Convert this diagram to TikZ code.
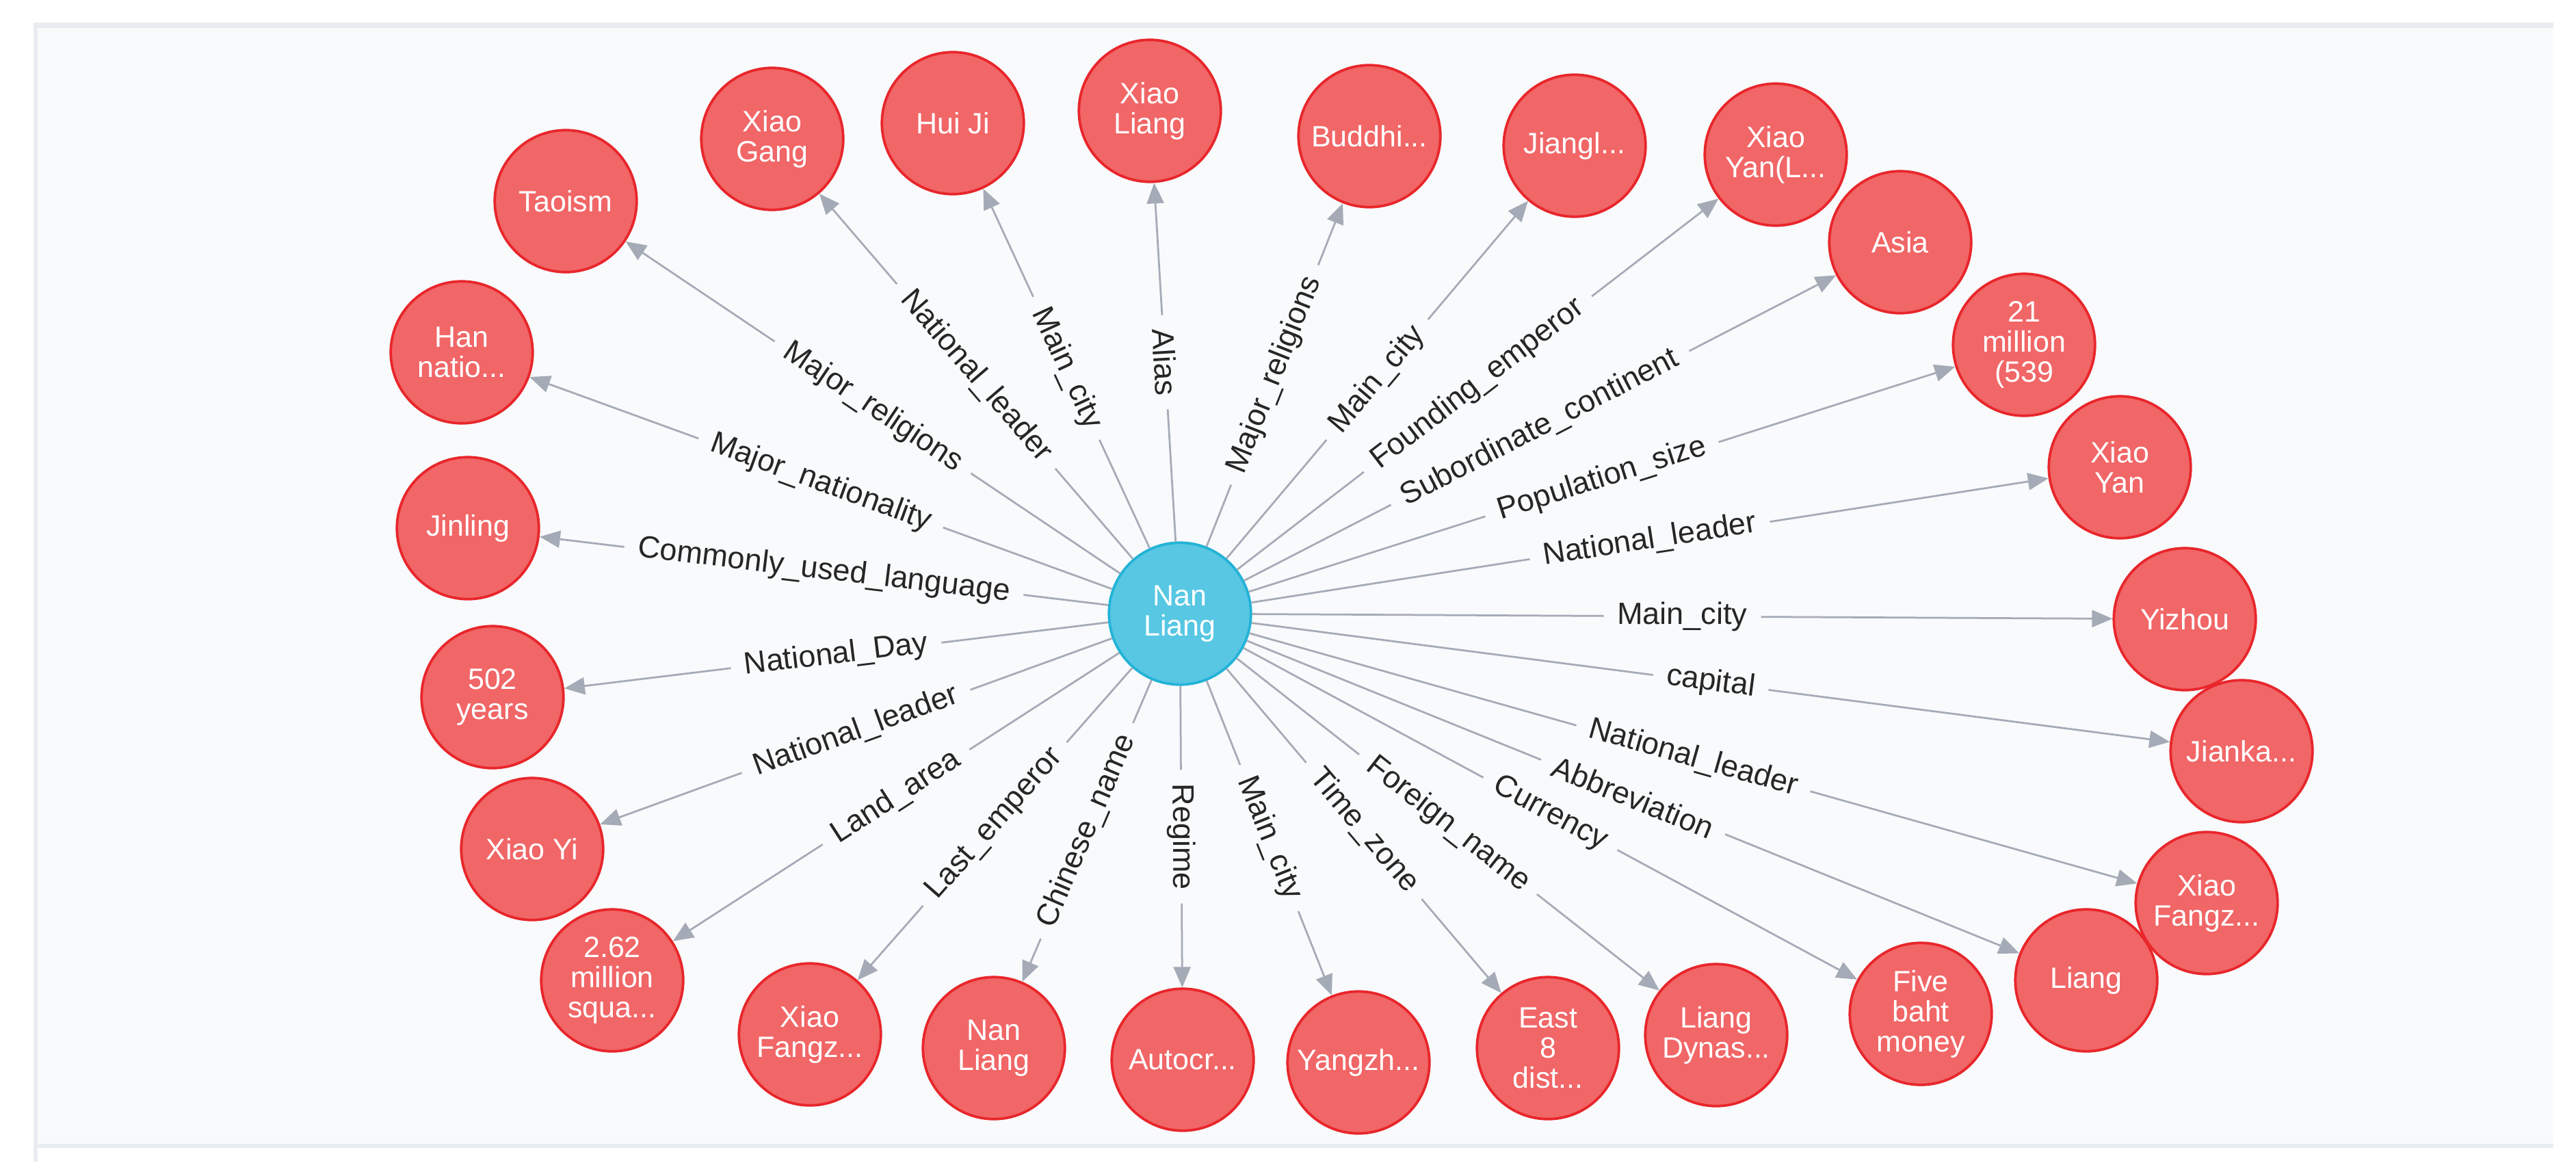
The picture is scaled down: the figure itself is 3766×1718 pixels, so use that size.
\documentclass[tikz,border=0pt]{standalone}
\usepackage{fontspec}
\setmainfont{Liberation Sans}
\usetikzlibrary{arrows.meta}
\definecolor{panelbg}{HTML}{F8FAFC}
\definecolor{band}{HTML}{E9ECF1}
\definecolor{redfill}{HTML}{F16667}
\definecolor{redline}{HTML}{E8262B}
\definecolor{bluefill}{HTML}{57C7E3}
\definecolor{blueline}{HTML}{23B3D7}
\definecolor{edgecol}{HTML}{A5ABB6}
\definecolor{labcol}{HTML}{262626}
\begin{document}
\begin{tikzpicture}[x=0.2pt,y=-0.2pt,
  leaf/.style={circle, fill=redfill, draw=redline, line width=0.75pt, minimum size=41.5pt,
    inner sep=0pt, text=white, font=\fontsize{8.6}{8.8}\selectfont, align=center},
  hub/.style={leaf, fill=bluefill, draw=blueline},
  rel/.style={draw=edgecol, line width=0.55pt, -{Triangle[length=6pt,width=5pt]}},
  lab/.style={midway, sloped, fill=panelbg, text=labcol, font=\fontsize{9}{9}\selectfont,
    inner xsep=4pt, inner ysep=1pt}]
\useasboundingbox (0,0) rectangle (3766,1718);
\fill[white] (0,0) rectangle (3766,1718);
\fill[panelbg] (53,35) rectangle (3733,1675);
\fill[band] (49,33) rectangle (3733,41);
\fill[band] (55,1672) rectangle (3733,1678);
\fill[band] (49,33) rectangle (55,1698);

\node[hub] (c) at (1725,897) {Nan\\Liang};
\node[leaf] (n1) at (827,294) {Taoism};
\node[leaf] (n2) at (1129,203) {Xiao\\Gang};
\node[leaf] (n3) at (1393,180) {Hui Ji};
\node[leaf] (n4) at (1681,162) {Xiao\\Liang};
\node[leaf] (n5) at (2002,199) {Buddhi...};
\node[leaf] (n6) at (2302,213) {Jiangl...};
\node[leaf] (n7) at (2596,226) {Xiao\\Yan(L...};
\node[leaf] (n8) at (2778,354) {Asia};
\node[leaf] (n9) at (2959,504) {21\\million\\(539};
\node[leaf] (n10) at (3099,683) {Xiao\\Yan};
\node[leaf] (n11) at (3194,905) {Yizhou};
\node[leaf] (n12) at (3277,1098) {Jianka...};
\node[leaf] (n13) at (3226,1320) {Xiao\\Fangz...};
\node[leaf] (n14) at (3050,1433) {Liang};
\node[leaf] (n15) at (2808,1482) {Five\\baht\\money};
\node[leaf] (n16) at (2509,1513) {Liang\\Dynas...};
\node[leaf] (n17) at (2263,1532) {East\\8\\dist...};
\node[leaf] (n18) at (1986,1553) {Yangzh...};
\node[leaf] (n19) at (1729,1549) {Autocr...};
\node[leaf] (n20) at (1453,1532) {Nan\\Liang};
\node[leaf] (n21) at (1184,1512) {Xiao\\Fangz...};
\node[leaf] (n22) at (895,1433) {2.62\\million\\squa...};
\node[leaf] (n23) at (778,1241) {Xiao Yi};
\node[leaf] (n24) at (720,1019) {502\\years};
\node[leaf] (n25) at (684,772) {Jinling};
\node[leaf] (n26) at (675,515) {Han\\natio...};

\draw[rel] (c) -- node[lab]{Major\_religions} (n1);
\draw[rel] (c) -- node[lab]{National\_leader} (n2);
\draw[rel] (c) -- node[lab]{Main\_city} (n3);
\draw[rel] (c) -- node[lab]{Alias} (n4);
\draw[rel] (c) -- node[lab]{Major\_religions} (n5);
\draw[rel] (c) -- node[lab]{Main\_city} (n6);
\draw[rel] (c) -- node[lab]{Founding\_emperor} (n7);
\draw[rel] (c) -- node[lab]{Subordinate\_continent} (n8);
\draw[rel] (c) -- node[lab]{Population\_size} (n9);
\draw[rel] (c) -- node[lab]{National\_leader} (n10);
\draw[rel] (c) -- node[lab]{Main\_city} (n11);
\draw[rel] (c) -- node[lab]{capital} (n12);
\draw[rel] (c) -- node[lab]{National\_leader} (n13);
\draw[rel] (c) -- node[lab]{Abbreviation} (n14);
\draw[rel] (c) -- node[lab]{Currency} (n15);
\draw[rel] (c) -- node[lab]{Foreign\_name} (n16);
\draw[rel] (c) -- node[lab]{Time\_zone} (n17);
\draw[rel] (c) -- node[lab]{Main\_city} (n18);
\draw[rel] (c) -- node[lab]{Regime} (n19);
\draw[rel] (c) -- node[lab]{Chinese\_name} (n20);
\draw[rel] (c) -- node[lab]{Last\_emperor} (n21);
\draw[rel] (c) -- node[lab]{Land\_area} (n22);
\draw[rel] (c) -- node[lab]{National\_leader} (n23);
\draw[rel] (c) -- node[lab]{National\_Day} (n24);
\draw[rel] (c) -- node[lab]{Commonly\_used\_language} (n25);
\draw[rel] (c) -- node[lab]{Major\_nationality} (n26);
\end{tikzpicture}
\end{document}
